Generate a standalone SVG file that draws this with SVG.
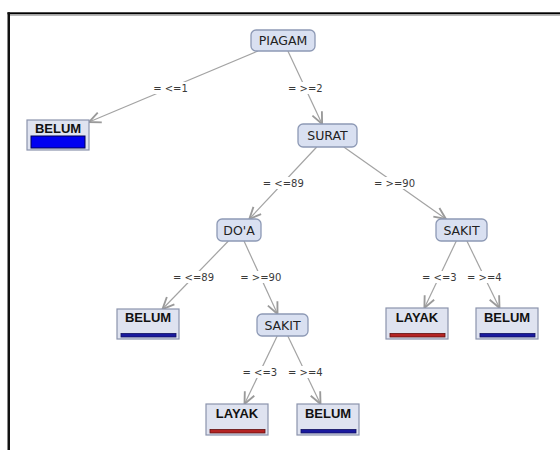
<svg xmlns="http://www.w3.org/2000/svg" width="560" height="450" viewBox="0 0 560 450">
<style>
.inner rect{fill:#d9e0f1;stroke:#8d99b5;stroke-width:1.3}
.inner text{font-family:"DejaVu Sans",Verdana,sans-serif;font-size:12.5px;fill:#222;text-anchor:middle}
.leaf rect.box{fill:#dfe3f0;stroke:#8b93ac;stroke-width:1.2}
.leaf text{font-family:"Liberation Sans",Arial,sans-serif;font-size:13px;font-weight:bold;fill:#111;text-anchor:middle}
.blue{fill:#1a1a9e;stroke:#101060;stroke-width:0.8}
.bigblue{fill:#0000f2;stroke:#000050;stroke-width:1}
.red{fill:#b42424;stroke:#601010;stroke-width:0.8}
.edges line{stroke:#a3a3a3;stroke-width:1.2;marker-end:url(#arr)}
.lbl rect{fill:#fff}
.lbl text{font-family:"DejaVu Sans",Verdana,sans-serif;font-size:10px;fill:#3a3a3a;text-anchor:middle}
</style>
<defs>
<marker id="arr" markerUnits="userSpaceOnUse" markerWidth="14" markerHeight="14" viewBox="0 0 12 12" refX="11" refY="6" orient="auto">
<path d="M1,1.5 L11,6 L1,10.5" fill="none" stroke="#9a9a9a" stroke-width="1.6"/>
</marker>
</defs>
<rect width="560" height="450" fill="#fff"/>
<rect x="7.5" y="12.3" width="552.5" height="2" fill="#000"/>
<rect x="9.5" y="14.5" width="550.5" height="1.2" fill="#9a9a9a"/>
<rect x="7.5" y="12.3" width="2.5" height="437.7" fill="#111"/>

<g id="connectors" class="edges">
<line x1="258" y1="51" x2="89" y2="122"/>
<line x1="287.9" y1="51" x2="322.1" y2="124"/>
<line x1="316.7" y1="147" x2="249.3" y2="219"/>
<line x1="343.8" y1="147" x2="445.9" y2="219"/>
<line x1="228.4" y1="241" x2="162.5" y2="309"/>
<line x1="244" y1="241" x2="277.5" y2="314"/>
<line x1="456.3" y1="241" x2="424.4" y2="308"/>
<line x1="466.9" y1="241" x2="499.5" y2="308"/>
<line x1="277.2" y1="336" x2="244.5" y2="404"/>
<line x1="287.8" y1="336" x2="320.5" y2="404"/>
</g>

<g id="labels" class="lbl">
<rect x="152" y="82" width="37" height="12"/><text x="170.5" y="91.5">= &lt;=1</text>
<rect x="287" y="82" width="37" height="12"/><text x="305.3" y="91.5">= &gt;=2</text>
<rect x="261" y="177" width="44" height="12"/><text x="283.3" y="186.5">= &lt;=89</text>
<rect x="372" y="177" width="45" height="12"/><text x="394.5" y="186.5">= &gt;=90</text>
<rect x="171" y="271" width="45" height="12"/><text x="193.5" y="280.5">= &lt;=89</text>
<rect x="241" y="271" width="40" height="12"/><text x="260.8" y="281">= &gt;=90</text>
<rect x="423" y="271" width="33" height="12"/><text x="439.3" y="280.5">= &lt;=3</text>
<rect x="468" y="271" width="33" height="12"/><text x="484.3" y="280.5">= &gt;=4</text>
<rect x="244" y="366" width="32" height="12"/><text x="259.8" y="375.8">= &lt;=3</text>
<rect x="290" y="366" width="32" height="12"/><text x="305.3" y="375.8">= &gt;=4</text>
</g>

<g id="n-piagam" class="inner"><rect x="251" y="30" width="64" height="21" rx="5"/><text x="283" y="45">PIAGAM</text></g>
<g id="n-surat" class="inner"><rect x="298" y="124" width="59" height="23" rx="5"/><text x="327.5" y="140">SURAT</text></g>
<g id="n-doa" class="inner"><rect x="217" y="219" width="44" height="22" rx="5"/><text x="239" y="234.5">DO'A</text></g>
<g id="n-sakit-r" class="inner"><rect x="436" y="219" width="51" height="22" rx="5"/><text x="461.5" y="234.5">SAKIT</text></g>
<g id="n-sakit-m" class="inner"><rect x="257" y="314" width="51" height="22" rx="5"/><text x="282.5" y="329.5">SAKIT</text></g>

<g id="l-belum1" class="leaf"><rect class="box" x="27" y="120" width="62" height="30"/><text x="58" y="132.5">BELUM</text><rect class="bigblue" x="31" y="136" width="54" height="12"/></g>
<g id="l-belum2" class="leaf"><rect class="box" x="117" y="309" width="62" height="30"/><text x="148" y="321.5">BELUM</text><rect class="blue" x="121" y="333.5" width="55" height="3.5"/></g>
<g id="l-layak1" class="leaf"><rect class="box" x="386" y="308" width="62" height="31"/><text x="417" y="321.5">LAYAK</text><rect class="red" x="390" y="333.5" width="55" height="3.5"/></g>
<g id="l-belum3" class="leaf"><rect class="box" x="476" y="308" width="62" height="31"/><text x="507" y="321.5">BELUM</text><rect class="blue" x="480" y="333.5" width="55" height="3.5"/></g>
<g id="l-layak2" class="leaf"><rect class="box" x="206" y="404" width="62" height="31"/><text x="237" y="417.5">LAYAK</text><rect class="red" x="210" y="429.5" width="55" height="3.5"/></g>
<g id="l-belum4" class="leaf"><rect class="box" x="297" y="404" width="62" height="31"/><text x="328" y="417.5">BELUM</text><rect class="blue" x="301" y="429.5" width="55" height="3.5"/></g>
</svg>
